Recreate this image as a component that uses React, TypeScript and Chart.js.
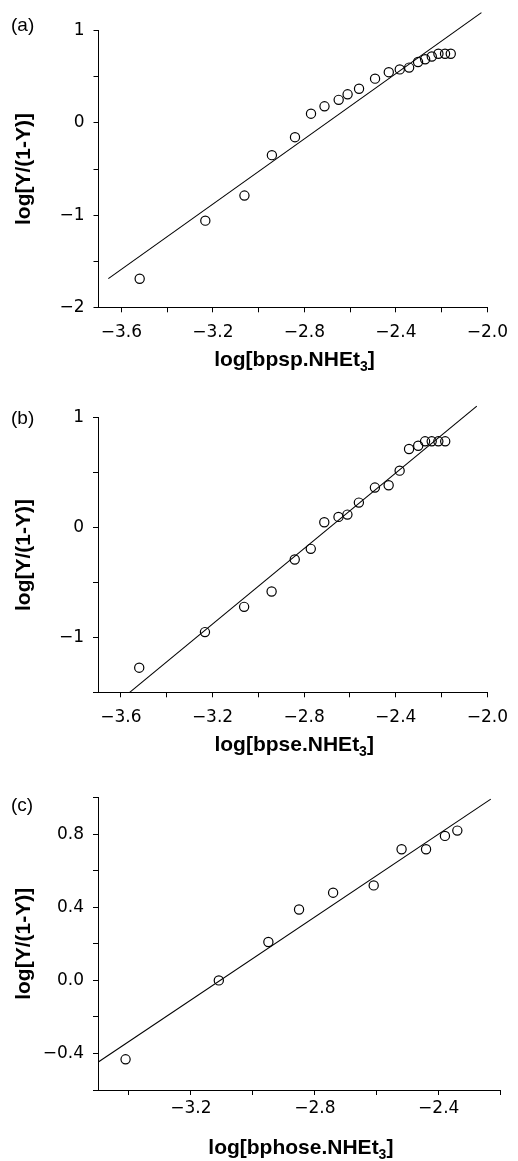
import React, { useEffect, useRef } from 'react';
import { Chart, registerables } from 'chart.js';

Chart.register(...registerables);

// ---------- Panel (a): bpsp.NHEt3 ----------
const aX = [-3.52, -3.233, -3.062, -2.942, -2.841, -2.771, -2.712, -2.65, -2.611, -2.561, -2.491, -2.431, -2.383, -2.342, -2.303, -2.272, -2.243, -2.214, -2.185, -2.16];
const aY = [-1.69, -1.06, -0.788, -0.35, -0.155, 0.1, 0.18, 0.25, 0.31, 0.37, 0.48, 0.55, 0.58, 0.6, 0.66, 0.69, 0.72, 0.75, 0.75, 0.75];
const aFitX = [-3.657, -2.026];
const aFitY = [-1.689, 1.196];

// ---------- Panel (b): bpse.NHEt3 ----------
const bX = [-3.52, -3.233, -3.062, -2.942, -2.841, -2.771, -2.712, -2.65, -2.611, -2.561, -2.491, -2.431, -2.383, -2.342, -2.302, -2.272, -2.243, -2.214, -2.184];
const bY = [-1.276, -0.952, -0.722, -0.582, -0.291, -0.194, 0.048, 0.097, 0.118, 0.227, 0.364, 0.385, 0.518, 0.715, 0.745, 0.785, 0.785, 0.785, 0.785];
const bFitX = [-3.563, -2.046];
const bFitY = [-1.503, 1.105];

// ---------- Panel (c): bphose.NHEt3 ----------
const cX = [-3.411, -3.11, -2.95, -2.851, -2.741, -2.61, -2.52, -2.441, -2.38, -2.34];
const cY = [-0.432, 0.0, 0.21, 0.388, 0.48, 0.52, 0.718, 0.718, 0.791, 0.82];
const cFitX = [-3.499, -2.232];
const cFitY = [-0.447, 0.992];

// ---------- Ticks ----------
const abXTicks = [-3.6, -3.4, -3.2, -3.0, -2.8, -2.6, -2.4, -2.2, -2.0];
const abXLabels = [-3.6, -3.2, -2.8, -2.4, -2.0];
const cXTicks = [-3.4, -3.2, -3.0, -2.8, -2.6, -2.4, -2.2];
const cXLabels = [-3.2, -2.8, -2.4];
const aYTicks = [-2, -1.5, -1, -0.5, 0, 0.5, 1];
const aYLabels = [-2, -1, 0, 1];
const bYTicks = [-1.5, -1, -0.5, 0, 0.5, 1];
const bYLabels = [-1, 0, 1];
const cYTicks = [-0.6, -0.4, -0.2, 0, 0.2, 0.4, 0.6, 0.8, 1.0];
const cYLabels = [-0.4, 0, 0.4, 0.8];

const yTitle = 'log[Y/(1-Y)]';

const TICK_FONT = { family: '"DejaVu Sans", "Liberation Sans", Arial, sans-serif', size: 17 };
const BOLD_FAMILY = '"Liberation Sans", Arial, Helvetica, sans-serif';

function fmt(v: number, decimals: number) {
  const s = v.toFixed(decimals);
  return s.startsWith('-') ? '\u2212' + s.slice(1) : s;
}

function labelFor(labels: number[], decimals: number) {
  return (value: any) => {
    const v = Number(value);
    const hit = labels.find((l) => Math.abs(l - v) < 1e-6);
    if (hit === undefined) return '';
    return fmt(Math.abs(hit) < 1e-9 ? 0 : hit, decimals);
  };
}

interface PanelSpec {
  letter: string;
  letterY: number;
  xs: number[];
  ys: number[];
  fitX: number[];
  fitY: number[];
  xMin: number;
  xMax: number;
  yMin: number;
  yMax: number;
  xTicks: number[];
  xLabels: number[];
  yTicks: number[];
  yLabels: number[];
  yDecimals: number;
  xTitleMain: string;
  xTitleSub: string;
  titleOffset: number;
  height: number;
  padTop: number;
  padRight: number;
  yAxisWidth: number;
  xAxisHeight: number;
  xTickPad: number;
}

const panels: PanelSpec[] = [
  {
    letter: '(a)', letterY: 26, xs: aX, ys: aY, fitX: aFitX, fitY: aFitY,
    xMin: -3.7, xMax: -2.0, yMin: -2, yMax: 1,
    xTicks: abXTicks, xLabels: abXLabels, yTicks: aYTicks, yLabels: aYLabels, yDecimals: 0,
    xTitleMain: 'log[bpsp.NHEt', xTitleSub: '3', titleOffset: 58.7,
    height: 380, padTop: 30.7, padRight: 21, yAxisWidth: 98.5, xAxisHeight: 380 - 307.3, xTickPad: 10,
  },
  {
    letter: '(b)', letterY: 39, xs: bX, ys: bY, fitX: bFitX, fitY: bFitY,
    xMin: -3.7, xMax: -2.0, yMin: -1.5, yMax: 1,
    xTicks: abXTicks, xLabels: abXLabels, yTicks: bYTicks, yLabels: bYLabels, yDecimals: 0,
    xTitleMain: 'log[bpse.NHEt', xTitleSub: '3', titleOffset: 58.7,
    height: 380, padTop: 37.7, padRight: 21, yAxisWidth: 98, xAxisHeight: 380 - 312.3, xTickPad: 10,
  },
  {
    letter: '(c)', letterY: 46, xs: cX, ys: cY, fitX: cFitX, fitY: cFitY,
    xMin: -3.5, xMax: -2.2, yMin: -0.6, yMax: 1.0,
    xTicks: cXTicks, xLabels: cXLabels, yTicks: cYTicks, yLabels: cYLabels, yDecimals: 1,
    xTitleMain: 'log[bphose.NHEt', xTitleSub: '3', titleOffset: 64,
    height: 401, padTop: 37.7, padRight: 17.3, yAxisWidth: 98, xAxisHeight: 401 - 330, xTickPad: 3,
  },
];

function textPlugin(p: PanelSpec) {
  return {
    id: 'panelText',
    afterDraw(chart: any) {
      const ctx = chart.ctx as CanvasRenderingContext2D;
      const ca = chart.chartArea;
      ctx.save();
      ctx.fillStyle = '#000';
      ctx.font = '19px "Liberation Sans", Arial, sans-serif';
      ctx.textAlign = 'left';
      ctx.textBaseline = 'middle';
      ctx.fillText(p.letter, 11, p.letterY);

      const mainFont = `bold 21px ${BOLD_FAMILY}`;
      const subFont = `bold 14px ${BOLD_FAMILY}`;
      ctx.font = mainFont;
      const w1 = ctx.measureText(p.xTitleMain).width;
      const w3 = ctx.measureText(']').width;
      ctx.font = subFont;
      const w2 = ctx.measureText(p.xTitleSub).width;
      const total = w1 + w2 + w3;
      let x = (ca.left + ca.right) / 2 - total / 2 + 1.5;
      const y = ca.bottom + p.titleOffset;
      ctx.textBaseline = 'alphabetic';
      ctx.font = mainFont;
      ctx.fillText(p.xTitleMain, x, y);
      x += w1;
      ctx.font = subFont;
      ctx.fillText(p.xTitleSub, x, y + 5);
      x += w2;
      ctx.font = mainFont;
      ctx.fillText(']', x, y);
      ctx.restore();
    },
  };
}

function makeConfig(p: PanelSpec): any {
  return {
    type: 'scatter',
    data: {
      datasets: [
        {
          data: p.fitX.map((x, i) => ({ x, y: p.fitY[i] })),
          showLine: true,
          borderColor: '#000',
          borderWidth: 1.1,
          pointRadius: 0,
          fill: false,
          clip: false,
        },
        {
          data: p.xs.map((x, i) => ({ x, y: p.ys[i] })),
          pointStyle: 'circle',
          pointRadius: 4.6,
          borderColor: '#000',
          borderWidth: 1.2,
          backgroundColor: 'rgba(0,0,0,0)',
          clip: false,
        },
      ],
    },
    options: {
      responsive: false,
      animation: false,
      devicePixelRatio: 1,
      layout: { padding: { left: 0, top: p.padTop, right: p.padRight, bottom: 0 } },
      plugins: { legend: { display: false }, tooltip: { enabled: false } },
      scales: {
        x: {
          type: 'linear',
          min: p.xMin,
          max: p.xMax,
          afterBuildTicks: (s: any) => {
            s.ticks = p.xTicks.map((v) => ({ value: v }));
          },
          afterFit: (s: any) => {
            s.height = p.xAxisHeight;
          },
          grid: { display: true, drawOnChartArea: false, drawTicks: true, tickLength: 5, tickWidth: 1, color: '#000' },
          border: { display: true, color: '#000', width: 1 },
          ticks: {
            padding: p.xTickPad,
            font: TICK_FONT,
            color: '#000',
            maxRotation: 0,
            autoSkip: false,
            callback: labelFor(p.xLabels, 1),
          },
        },
        y: {
          type: 'linear',
          min: p.yMin,
          max: p.yMax,
          afterBuildTicks: (s: any) => {
            s.ticks = p.yTicks.map((v) => ({ value: v }));
          },
          afterFit: (s: any) => {
            s.width = p.yAxisWidth;
          },
          grid: { display: true, drawOnChartArea: false, drawTicks: true, tickLength: 5, tickWidth: 1, color: '#000' },
          border: { display: true, color: '#000', width: 1 },
          ticks: {
            padding: 9,
            font: TICK_FONT,
            color: '#000',
            autoSkip: false,
            callback: labelFor(p.yLabels, p.yDecimals),
          },
          title: {
            display: true,
            text: yTitle,
            color: '#000',
            font: { family: BOLD_FAMILY, weight: 'bold', size: 21 },
            padding: { top: 12, bottom: 0 },
          },
        },
      },
    },
    plugins: [textPlugin(p)],
  };
}

function Panel({ spec, top }: { spec: PanelSpec; top: number }) {
  const ref = useRef<HTMLCanvasElement | null>(null);
  useEffect(() => {
    if (!ref.current) return;
    const chart = new Chart(ref.current, makeConfig(spec));
    return () => chart.destroy();
  }, [spec]);
  return (
    <canvas
      ref={ref}
      width={518}
      height={spec.height}
      style={{ position: 'absolute', left: 0, top, width: 518, height: spec.height, display: 'block' }}
    />
  );
}

export default function App() {
  const tops = [0, 380, 760];
  return (
    <div style={{ position: 'absolute', left: 0, top: 0, width: 518, height: 1161, background: '#fff' }}>
      {panels.map((p, i) => (
        <Panel key={p.letter} spec={p} top={tops[i]} />
      ))}
    </div>
  );
}
